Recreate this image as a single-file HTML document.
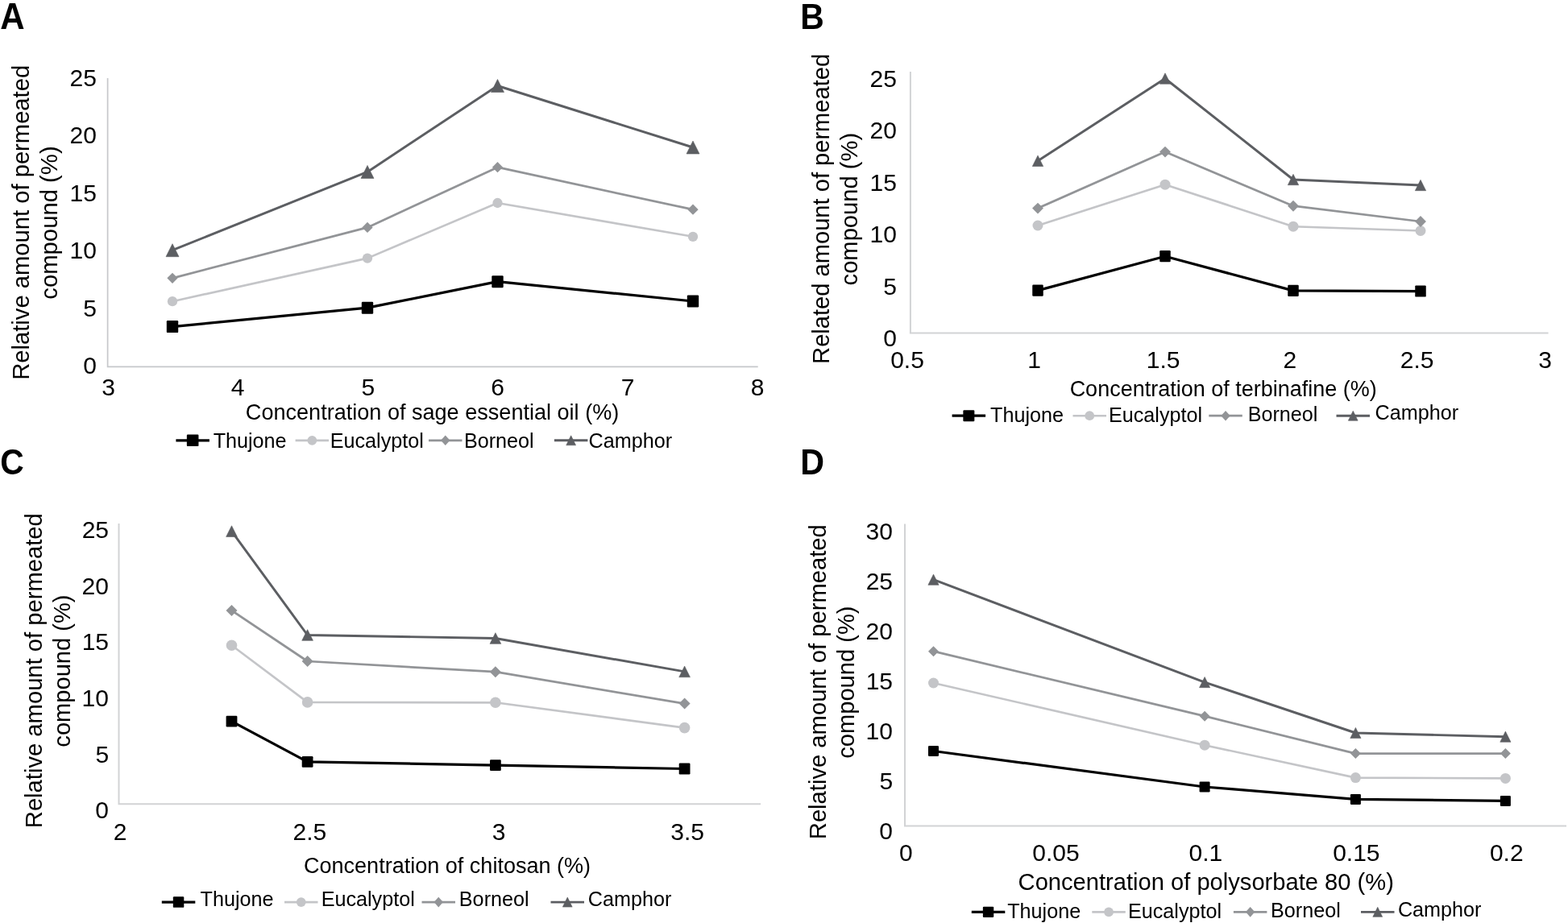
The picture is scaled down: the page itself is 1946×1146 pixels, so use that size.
<!DOCTYPE html>
<html><head><meta charset="utf-8"><title>Figure</title>
<style>
html,body{margin:0;padding:0;background:#fff;}
body{width:1946px;height:1146px;overflow:hidden;}
svg{display:block;filter:blur(0.4px);}
svg text{font-family:"Liberation Sans", Arial, Helvetica, sans-serif;}
</style></head><body>
<svg width="1946" height="1146" viewBox="0 0 1946 1146">
<rect width="1946" height="1146" fill="#fff"/>
<g id="A"><text transform="translate(0.15,36) scale(0.4203,0.4535)" style="font-size:100px;font-weight:bold;">A</text>
<path d="M133.6 97V455.3H940.7" fill="none" stroke="#c6c8cb" stroke-width="1.7"/>
<text x="86.59" y="106.9" style="font-size:30.000px;" fill="#000">25</text>
<text x="86.5" y="178.4" style="font-size:30.000px;" fill="#000">20</text>
<text x="86.59" y="249.9" style="font-size:30.000px;" fill="#000">15</text>
<text x="86.5" y="321.4" style="font-size:30.000px;" fill="#000">10</text>
<text x="103.28" y="392.9" style="font-size:30.000px;" fill="#000">5</text>
<text x="103.19" y="464.4" style="font-size:30.000px;" fill="#000">0</text>
<text x="126.15" y="490.9" style="font-size:30.000px;" fill="#000">3</text>
<text x="286.65" y="490.9" style="font-size:30.000px;" fill="#000">4</text>
<text x="448.39" y="490.9" style="font-size:30.000px;" fill="#000">5</text>
<text x="609.36" y="490.9" style="font-size:30.000px;" fill="#000">6</text>
<text x="770.74" y="490.9" style="font-size:30.000px;" fill="#000">7</text>
<text x="931.86" y="490.9" style="font-size:30.000px;" fill="#000">8</text>
<text transform="translate(35.8,471.79) rotate(-90) scale(1,1.0300)" style="font-size:29.192px">Relative amount of permeated</text>
<text transform="translate(71,371.74) rotate(-90) scale(1,1.0300)" style="font-size:29.288px">compound (%)</text>
<text transform="translate(304.83,520.7) scale(1.0000,1.0350)" style="font-size:27.077px;" fill="#000">Concentration of sage essential oil (%)</text>
<path d="M214 374.2L456 320.6L617.5 252L860 293.8" fill="none" stroke="#c4c5c8" stroke-width="2.65" stroke-linejoin="round"/>
<path d="M214 345.3L456 282.4L617.5 207.7L860 260.2" fill="none" stroke="#929497" stroke-width="2.75" stroke-linejoin="round"/>
<path d="M214 310.7L456 213.4L617.5 106.5L860 183" fill="none" stroke="#5c5e62" stroke-width="2.95" stroke-linejoin="round"/>
<path d="M214 405.6L456 382.2L617.5 349.7L860 374" fill="none" stroke="#000000" stroke-width="3.25" stroke-linejoin="round"/>
<ellipse cx="214" cy="374.2" rx="6.15" ry="6.15" fill="#c4c5c8"/>
<ellipse cx="456" cy="320.6" rx="6.15" ry="6.15" fill="#c4c5c8"/>
<ellipse cx="617.5" cy="252" rx="6.15" ry="6.15" fill="#c4c5c8"/>
<ellipse cx="860" cy="293.8" rx="6.15" ry="6.15" fill="#c4c5c8"/>
<path d="M214 338.65L220.65 345.3L214 351.95L207.35 345.3Z" fill="#929497"/>
<path d="M456 275.75L462.65 282.4L456 289.05L449.35 282.4Z" fill="#929497"/>
<path d="M617.5 201.05L624.15 207.7L617.5 214.35L610.85 207.7Z" fill="#929497"/>
<path d="M860 253.55L866.65 260.2L860 266.85L853.35 260.2Z" fill="#929497"/>
<path d="M214 302.7L222 318.7L206 318.7Z" fill="#5c5e62" stroke="#5c5e62" stroke-width="0.6" stroke-linejoin="round"/>
<path d="M456 205.4L464 221.4L448 221.4Z" fill="#5c5e62" stroke="#5c5e62" stroke-width="0.6" stroke-linejoin="round"/>
<path d="M617.5 98.5L625.5 114.5L609.5 114.5Z" fill="#5c5e62" stroke="#5c5e62" stroke-width="0.6" stroke-linejoin="round"/>
<path d="M860 175L868 191L852 191Z" fill="#5c5e62" stroke="#5c5e62" stroke-width="0.6" stroke-linejoin="round"/>
<rect x="206.8" y="398.1" width="14.4" height="15" rx="1.2" fill="#000000"/>
<rect x="448.8" y="374.7" width="14.4" height="15" rx="1.2" fill="#000000"/>
<rect x="610.3" y="342.2" width="14.4" height="15" rx="1.2" fill="#000000"/>
<rect x="852.8" y="366.5" width="14.4" height="15" rx="1.2" fill="#000000"/>
<path d="M218.4 546.8H259.9" stroke="#000000" stroke-width="3.25" fill="none"/>
<rect x="231.85" y="539.5" width="14.6" height="14.6" rx="1.2" fill="#000000"/>
<text transform="translate(264.63,555.9) scale(1.0000,1.0400)" style="font-size:25.200px;" fill="#000">Thujone</text>
<path d="M366.6 546.8H408.1" stroke="#c4c5c8" stroke-width="2.65" fill="none"/>
<ellipse cx="387.35" cy="546.8" rx="5.9" ry="5.9" fill="#c4c5c8"/>
<text transform="translate(409.73,555.7) scale(1.0000,1.0400)" style="font-size:25.200px;" fill="#000">Eucalyptol</text>
<path d="M532 546.8H573.5" stroke="#929497" stroke-width="2.75" fill="none"/>
<path d="M552.75 540.5L558.45 546.8L552.75 553.1L547.05 546.8Z" fill="#929497"/>
<text transform="translate(575.93,555.7) scale(1.0000,1.0400)" style="font-size:25.200px;" fill="#000">Borneol</text>
<path d="M687.9 546.8H729.4" stroke="#5c5e62" stroke-width="2.95" fill="none"/>
<path d="M708.65 540.8L714.55 552.8L702.75 552.8Z" fill="#5c5e62" stroke="#5c5e62" stroke-width="0.6" stroke-linejoin="round"/>
<text transform="translate(730.52,555.5) scale(1.0000,1.0400)" style="font-size:25.200px;" fill="#000">Camphor</text></g>
<g id="B"><text transform="translate(993.37,35.8) scale(0.4083,0.4477)" style="font-size:100px;font-weight:bold;">B</text>
<path d="M1129.9 89.1V413.5H1921.6" fill="none" stroke="#d2d3d5" stroke-width="2.0"/>
<text x="1079.59" y="107.8" style="font-size:30.000px;" fill="#000">25</text>
<text x="1079.5" y="172.32" style="font-size:30.000px;" fill="#000">20</text>
<text x="1079.59" y="236.84" style="font-size:30.000px;" fill="#000">15</text>
<text x="1079.5" y="301.36" style="font-size:30.000px;" fill="#000">10</text>
<text x="1096.28" y="365.88" style="font-size:30.000px;" fill="#000">5</text>
<text x="1096.19" y="430.4" style="font-size:30.000px;" fill="#000">0</text>
<text x="1105.19" y="456.9" style="font-size:30.000px;" fill="#000">0.5</text>
<text x="1275.25" y="456.9" style="font-size:30.000px;" fill="#000">1</text>
<text x="1422.74" y="456.9" style="font-size:30.000px;" fill="#000">1.5</text>
<text x="1592.56" y="456.9" style="font-size:30.000px;" fill="#000">2</text>
<text x="1737.72" y="456.9" style="font-size:30.000px;" fill="#000">2.5</text>
<text x="1909.15" y="456.9" style="font-size:30.000px;" fill="#000">3</text>
<text transform="translate(1028.8,451.89) rotate(-90) scale(1,1.0300)" style="font-size:29.112px">Related amount of permeated</text>
<text transform="translate(1063.6,354.44) rotate(-90) scale(1,1.0300)" style="font-size:29.163px">compound (%)</text>
<text transform="translate(1327.63,491.7) scale(1.0000,1.0350)" style="font-size:27.003px;" fill="#000">Concentration of terbinafine (%)</text>
<path d="M1288 280L1446 229.2L1605 281.2L1763 286.5" fill="none" stroke="#c4c5c8" stroke-width="2.65" stroke-linejoin="round"/>
<path d="M1288 258.6L1446 188.6L1605 255.7L1763 275" fill="none" stroke="#929497" stroke-width="2.75" stroke-linejoin="round"/>
<path d="M1288 199.8L1446 97.5L1605 223L1763 230" fill="none" stroke="#5c5e62" stroke-width="2.95" stroke-linejoin="round"/>
<path d="M1288 360.6L1446 318.2L1605 360.9L1763 361.5" fill="none" stroke="#000000" stroke-width="3.25" stroke-linejoin="round"/>
<ellipse cx="1288" cy="280" rx="6.5" ry="6.5" fill="#c4c5c8"/>
<ellipse cx="1446" cy="229.2" rx="6.5" ry="6.5" fill="#c4c5c8"/>
<ellipse cx="1605" cy="281.2" rx="6.5" ry="6.5" fill="#c4c5c8"/>
<ellipse cx="1763" cy="286.5" rx="6.5" ry="6.5" fill="#c4c5c8"/>
<path d="M1288 251.65L1294.95 258.6L1288 265.55L1281.05 258.6Z" fill="#929497"/>
<path d="M1446 181.65L1452.95 188.6L1446 195.55L1439.05 188.6Z" fill="#929497"/>
<path d="M1605 248.75L1611.95 255.7L1605 262.65L1598.05 255.7Z" fill="#929497"/>
<path d="M1763 268.05L1769.95 275L1763 281.95L1756.05 275Z" fill="#929497"/>
<path d="M1288 193.1L1294.7 206.5L1281.3 206.5Z" fill="#5c5e62" stroke="#5c5e62" stroke-width="0.6" stroke-linejoin="round"/>
<path d="M1446 90.8L1452.7 104.2L1439.3 104.2Z" fill="#5c5e62" stroke="#5c5e62" stroke-width="0.6" stroke-linejoin="round"/>
<path d="M1605 216.3L1611.7 229.7L1598.3 229.7Z" fill="#5c5e62" stroke="#5c5e62" stroke-width="0.6" stroke-linejoin="round"/>
<path d="M1763 223.3L1769.7 236.7L1756.3 236.7Z" fill="#5c5e62" stroke="#5c5e62" stroke-width="0.6" stroke-linejoin="round"/>
<rect x="1281.25" y="353.5" width="13.5" height="14.2" rx="1.2" fill="#000000"/>
<rect x="1439.25" y="311.1" width="13.5" height="14.2" rx="1.2" fill="#000000"/>
<rect x="1598.25" y="353.8" width="13.5" height="14.2" rx="1.2" fill="#000000"/>
<rect x="1756.25" y="354.4" width="13.5" height="14.2" rx="1.2" fill="#000000"/>
<path d="M1181.6 516.2H1223.1" stroke="#000000" stroke-width="3.25" fill="none"/>
<rect x="1195.35" y="509.2" width="14" height="14" rx="1.2" fill="#000000"/>
<text transform="translate(1229.03,523.9) scale(1.0000,1.0400)" style="font-size:25.200px;" fill="#000">Thujone</text>
<path d="M1331.5 516.2H1373" stroke="#c4c5c8" stroke-width="2.65" fill="none"/>
<ellipse cx="1352.25" cy="516.2" rx="5.9" ry="5.9" fill="#c4c5c8"/>
<text transform="translate(1375.93,523.7) scale(1.0000,1.0400)" style="font-size:25.200px;" fill="#000">Eucalyptol</text>
<path d="M1500.3 516.2H1541.8" stroke="#929497" stroke-width="2.75" fill="none"/>
<path d="M1521.05 509.9L1526.75 516.2L1521.05 522.5L1515.35 516.2Z" fill="#929497"/>
<text transform="translate(1548.63,522.8) scale(1.0000,1.0400)" style="font-size:25.200px;" fill="#000">Borneol</text>
<path d="M1658.5 516.2H1700" stroke="#5c5e62" stroke-width="2.95" fill="none"/>
<path d="M1679.25 510.2L1685.15 522.2L1673.35 522.2Z" fill="#5c5e62" stroke="#5c5e62" stroke-width="0.6" stroke-linejoin="round"/>
<text transform="translate(1706.47,521.4) scale(1.0000,1.0400)" style="font-size:25.200px;" fill="#000">Camphor</text></g>
<g id="C"><text transform="translate(0.33,589.17) scale(0.4084,0.4364)" style="font-size:100px;font-weight:bold;">C</text>
<path d="M147.5 650.1V998.2H944.1" fill="none" stroke="#d2d3d5" stroke-width="2.0"/>
<text x="101.69" y="667.8" style="font-size:30.000px;" fill="#000">25</text>
<text x="101.6" y="737.5" style="font-size:30.000px;" fill="#000">20</text>
<text x="101.69" y="807.2" style="font-size:30.000px;" fill="#000">15</text>
<text x="101.6" y="876.9" style="font-size:30.000px;" fill="#000">10</text>
<text x="118.38" y="946.6" style="font-size:30.000px;" fill="#000">5</text>
<text x="118.29" y="1016.3" style="font-size:30.000px;" fill="#000">0</text>
<text x="140.66" y="1042.9" style="font-size:30.000px;" fill="#000">2</text>
<text x="363.52" y="1042.9" style="font-size:30.000px;" fill="#000">2.5</text>
<text x="610.75" y="1042.9" style="font-size:30.000px;" fill="#000">3</text>
<text x="832.21" y="1042.9" style="font-size:30.000px;" fill="#000">3.5</text>
<text transform="translate(51.8,1028.19) rotate(-90) scale(1,1.0300)" style="font-size:29.192px">Relative amount of permeated</text>
<text transform="translate(86.6,927.64) rotate(-90) scale(1,1.0300)" style="font-size:29.101px">compound (%)</text>
<text transform="translate(376.93,1083.8) scale(1.0000,1.0350)" style="font-size:27.059px;" fill="#000">Concentration of chitosan (%)</text>
<path d="M287.5 801.3L381.6 871.9L614.9 872.3L849.6 903.6" fill="none" stroke="#c4c5c8" stroke-width="2.65" stroke-linejoin="round"/>
<path d="M287.5 758L381.6 821L614.9 834.2L849.6 873.6" fill="none" stroke="#929497" stroke-width="2.75" stroke-linejoin="round"/>
<path d="M287.5 659.6L381.6 788.5L614.9 792.5L849.6 833.9" fill="none" stroke="#5c5e62" stroke-width="2.95" stroke-linejoin="round"/>
<path d="M287.5 895.6L381.6 945.9L614.9 950.1L849.6 954.5" fill="none" stroke="#000000" stroke-width="3.25" stroke-linejoin="round"/>
<ellipse cx="287.5" cy="801.3" rx="6.8" ry="6.8" fill="#c4c5c8"/>
<ellipse cx="381.6" cy="871.9" rx="6.8" ry="6.8" fill="#c4c5c8"/>
<ellipse cx="614.9" cy="872.3" rx="6.8" ry="6.8" fill="#c4c5c8"/>
<ellipse cx="849.6" cy="903.6" rx="6.8" ry="6.8" fill="#c4c5c8"/>
<path d="M287.5 751L294.5 758L287.5 765L280.5 758Z" fill="#929497"/>
<path d="M381.6 814L388.6 821L381.6 828L374.6 821Z" fill="#929497"/>
<path d="M614.9 827.2L621.9 834.2L614.9 841.2L607.9 834.2Z" fill="#929497"/>
<path d="M849.6 866.6L856.6 873.6L849.6 880.6L842.6 873.6Z" fill="#929497"/>
<path d="M287.5 652.75L294.35 666.45L280.65 666.45Z" fill="#5c5e62" stroke="#5c5e62" stroke-width="0.6" stroke-linejoin="round"/>
<path d="M381.6 781.65L388.45 795.35L374.75 795.35Z" fill="#5c5e62" stroke="#5c5e62" stroke-width="0.6" stroke-linejoin="round"/>
<path d="M614.9 785.65L621.75 799.35L608.05 799.35Z" fill="#5c5e62" stroke="#5c5e62" stroke-width="0.6" stroke-linejoin="round"/>
<path d="M849.6 827.05L856.45 840.75L842.75 840.75Z" fill="#5c5e62" stroke="#5c5e62" stroke-width="0.6" stroke-linejoin="round"/>
<rect x="280.6" y="888.7" width="13.8" height="13.8" rx="1.2" fill="#000000"/>
<rect x="374.7" y="939" width="13.8" height="13.8" rx="1.2" fill="#000000"/>
<rect x="608" y="943.2" width="13.8" height="13.8" rx="1.2" fill="#000000"/>
<rect x="842.7" y="947.6" width="13.8" height="13.8" rx="1.2" fill="#000000"/>
<path d="M200.8 1120.1H242.3" stroke="#000000" stroke-width="3.25" fill="none"/>
<rect x="214.8" y="1113.35" width="13.5" height="13.5" rx="1.2" fill="#000000"/>
<text transform="translate(248.53,1124.9) scale(1.0000,1.0400)" style="font-size:25.200px;" fill="#000">Thujone</text>
<path d="M353 1120.1H394.5" stroke="#c4c5c8" stroke-width="2.65" fill="none"/>
<ellipse cx="373.75" cy="1120.1" rx="5.9" ry="5.9" fill="#c4c5c8"/>
<text transform="translate(398.63,1124.7) scale(1.0000,1.0400)" style="font-size:25.200px;" fill="#000">Eucalyptol</text>
<path d="M523.5 1120.1H565" stroke="#929497" stroke-width="2.75" fill="none"/>
<path d="M544.25 1113.8L549.95 1120.1L544.25 1126.4L538.55 1120.1Z" fill="#929497"/>
<text transform="translate(569.83,1124.8) scale(1.0000,1.0400)" style="font-size:25.200px;" fill="#000">Borneol</text>
<path d="M683.5 1120.1H725" stroke="#5c5e62" stroke-width="2.95" fill="none"/>
<path d="M704.25 1114.1L710.15 1126.1L698.35 1126.1Z" fill="#5c5e62" stroke="#5c5e62" stroke-width="0.6" stroke-linejoin="round"/>
<text transform="translate(729.82,1124.5) scale(1.0000,1.0400)" style="font-size:25.200px;" fill="#000">Camphor</text></g>
<g id="D"><text transform="translate(993.14,588.8) scale(0.4125,0.4462)" style="font-size:100px;font-weight:bold;">D</text>
<path d="M1123 650.4V1025.6H1944" fill="none" stroke="#d2d3d5" stroke-width="2.0"/>
<text x="1074.6" y="669.6" style="font-size:30.000px;" fill="#000">30</text>
<text x="1074.69" y="731.73" style="font-size:30.000px;" fill="#000">25</text>
<text x="1074.6" y="793.86" style="font-size:30.000px;" fill="#000">20</text>
<text x="1074.69" y="855.99" style="font-size:30.000px;" fill="#000">15</text>
<text x="1074.6" y="918.12" style="font-size:30.000px;" fill="#000">10</text>
<text x="1091.38" y="980.25" style="font-size:30.000px;" fill="#000">5</text>
<text x="1091.29" y="1042.38" style="font-size:30.000px;" fill="#000">0</text>
<text x="1115.96" y="1068.9" style="font-size:30.000px;" fill="#000">0</text>
<text x="1281.25" y="1068.9" style="font-size:30.000px;" fill="#000">0.05</text>
<text x="1475.59" y="1068.9" style="font-size:30.000px;" fill="#000">0.1</text>
<text x="1654.15" y="1068.9" style="font-size:30.000px;" fill="#000">0.15</text>
<text x="1848.92" y="1068.9" style="font-size:30.000px;" fill="#000">0.2</text>
<text transform="translate(1025,1042.19) rotate(-90) scale(1,1.0300)" style="font-size:29.192px">Relative amount of permeated</text>
<text transform="translate(1059.5,941.74) rotate(-90) scale(1,1.0300)" style="font-size:29.116px">compound (%)</text>
<text x="1263.62" y="1104.5" style="font-size:29.139px;" fill="#000">Concentration of polysorbate 80 (%)</text>
<path d="M1158.5 848L1495.1 925.2L1682.4 965.6L1868.4 966.4" fill="none" stroke="#c4c5c8" stroke-width="2.65" stroke-linejoin="round"/>
<path d="M1158.5 808.7L1495.1 889.2L1682.4 935.6L1868.4 935.6" fill="none" stroke="#929497" stroke-width="2.75" stroke-linejoin="round"/>
<path d="M1158.5 719.7L1495.1 847.1L1682.4 910L1868.4 914.7" fill="none" stroke="#5c5e62" stroke-width="2.95" stroke-linejoin="round"/>
<path d="M1158.5 932.5L1495.1 977L1682.4 992.4L1868.4 994.4" fill="none" stroke="#000000" stroke-width="3.25" stroke-linejoin="round"/>
<ellipse cx="1158.5" cy="848" rx="6.5" ry="6.5" fill="#c4c5c8"/>
<ellipse cx="1495.1" cy="925.2" rx="6.5" ry="6.5" fill="#c4c5c8"/>
<ellipse cx="1682.4" cy="965.6" rx="6.5" ry="6.5" fill="#c4c5c8"/>
<ellipse cx="1868.4" cy="966.4" rx="6.5" ry="6.5" fill="#c4c5c8"/>
<path d="M1158.5 802.2L1165 808.7L1158.5 815.2L1152 808.7Z" fill="#929497"/>
<path d="M1495.1 882.7L1501.6 889.2L1495.1 895.7L1488.6 889.2Z" fill="#929497"/>
<path d="M1682.4 929.1L1688.9 935.6L1682.4 942.1L1675.9 935.6Z" fill="#929497"/>
<path d="M1868.4 929.1L1874.9 935.6L1868.4 942.1L1861.9 935.6Z" fill="#929497"/>
<path d="M1158.5 713.1L1165.1 726.3L1151.9 726.3Z" fill="#5c5e62" stroke="#5c5e62" stroke-width="0.6" stroke-linejoin="round"/>
<path d="M1495.1 840.5L1501.7 853.7L1488.5 853.7Z" fill="#5c5e62" stroke="#5c5e62" stroke-width="0.6" stroke-linejoin="round"/>
<path d="M1682.4 903.4L1689 916.6L1675.8 916.6Z" fill="#5c5e62" stroke="#5c5e62" stroke-width="0.6" stroke-linejoin="round"/>
<path d="M1868.4 908.1L1875 921.3L1861.8 921.3Z" fill="#5c5e62" stroke="#5c5e62" stroke-width="0.6" stroke-linejoin="round"/>
<rect x="1152" y="926" width="13" height="13" rx="1.2" fill="#000000"/>
<rect x="1488.6" y="970.5" width="13" height="13" rx="1.2" fill="#000000"/>
<rect x="1675.9" y="985.9" width="13" height="13" rx="1.2" fill="#000000"/>
<rect x="1861.9" y="987.9" width="13" height="13" rx="1.2" fill="#000000"/>
<path d="M1205.8 1132.35H1247.3" stroke="#000000" stroke-width="3.25" fill="none"/>
<rect x="1219.85" y="1125.65" width="13.4" height="13.4" rx="1.2" fill="#000000"/>
<text transform="translate(1250.23,1139.8) scale(1.0000,1.0400)" style="font-size:25.200px;" fill="#000">Thujone</text>
<path d="M1355.3 1132.35H1396.8" stroke="#c4c5c8" stroke-width="2.65" fill="none"/>
<ellipse cx="1376.05" cy="1132.35" rx="5.9" ry="5.9" fill="#c4c5c8"/>
<text transform="translate(1399.93,1139.8) scale(1.0000,1.0400)" style="font-size:25.200px;" fill="#000">Eucalyptol</text>
<path d="M1530.9 1132.35H1572.4" stroke="#929497" stroke-width="2.75" fill="none"/>
<path d="M1551.65 1126.05L1557.35 1132.35L1551.65 1138.65L1545.95 1132.35Z" fill="#929497"/>
<text transform="translate(1577.03,1138.8) scale(1.0000,1.0400)" style="font-size:25.200px;" fill="#000">Borneol</text>
<path d="M1689 1132.35H1730.5" stroke="#5c5e62" stroke-width="2.95" fill="none"/>
<path d="M1709.75 1126.35L1715.65 1138.35L1703.85 1138.35Z" fill="#5c5e62" stroke="#5c5e62" stroke-width="0.6" stroke-linejoin="round"/>
<text transform="translate(1734.92,1138.3) scale(1.0000,1.0400)" style="font-size:25.200px;" fill="#000">Camphor</text></g>
</svg>
</body></html>
